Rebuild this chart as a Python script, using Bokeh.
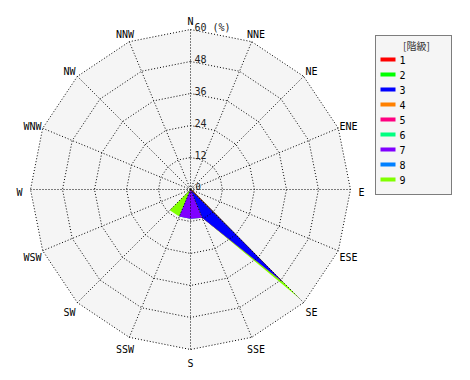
import numpy as np
from bokeh.plotting import figure
from bokeh.models import Range1d
from bokeh.core.properties import value
from bokeh.embed import file_html
from bokeh.resources import INLINE

# ---------------- data ----------------
directions = ["N", "NNE", "NE", "ENE", "E", "ESE", "SE", "SSE",
              "S", "SSW", "SW", "WSW", "W", "WNW", "NW", "NNW"]
classes = ["1", "2", "3", "4", "5", "6", "7", "8", "9"]
class_colors = ["#ff0000", "#00ff00", "#0000ff", "#ff8000", "#ff0080",
                "#00ff80", "#8000ff", "#0080ff", "#80ff00"]
# frequency (%) per class, per direction (N .. NNW)
c1 = [0, 0, 0, 0, 0, 0.7, 23, 0, 0, 0, 0, 0, 0, 0, 0, 0]
c2 = [0, 0, 0, 0, 0, 0, 1, 0, 0, 0, 0, 0, 0, 0, 0, 0]
c3 = [0, 0, 0, 0, 0, 0, 25, 11.5, 0, 0, 0, 0, 0, 0, 0, 0]
c4 = [0, 0, 0, 0, 0, 0, 0, 0, 0, 0, 0, 0, 0, 0, 0, 0]
c5 = [0, 0, 0, 0, 0, 0, 0, 0, 0, 0, 0, 0, 0, 0, 0, 0]
c6 = [0, 0, 0, 0, 0, 0, 0, 0, 0, 0, 0, 0, 0, 0, 0, 0]
c7 = [0, 0, 0, 0, 0, 0, 0, 0, 11, 11, 0, 0, 0, 0, 0, 0]
c8 = [0, 0, 0, 0, 0, 0, 0, 0, 0, 0, 0, 0, 0, 0, 0, 0]
c9 = [0, 0, 0, 0, 0, 0, 9, 0, 0, 0, 11, 0, 0, 0, 0, 0]
ring_values = [12, 24, 36, 48, 60]
ring_labels = ["12", "24", "36", "48", "60 (%)"]
legend_title = "[階級]"

# ---------------- layout ----------------
W, H = 470, 380
CX, CY = 190, 189          # pixel centre of the rose
SCALE = 160 / 60.0         # pixels per percent
FONT = value("DejaVu Sans Mono")


def dx(px):
    return (px - CX) / SCALE


def dy(py):
    return (CY - py) / SCALE


p = figure(width=W, height=H, output_backend="svg", toolbar_location=None,
           x_range=Range1d(dx(0), dx(W)), y_range=Range1d(dy(H), dy(0)),
           min_border=0)
p.axis.visible = False
p.grid.visible = False
p.outline_line_color = None
p.background_fill_color = "white"
p.border_fill_color = "white"

theta = np.deg2rad(np.arange(16) * 22.5)
sx, cy_ = np.sin(theta), np.cos(theta)
rmax = ring_values[-1]

# background of the rose
p.patch(list(rmax * sx), list(rmax * cy_), fill_color="#f5f5f5", line_color=None)

# stacked (cumulative) rose polygons, outermost first
data = np.array([c1, c2, c3, c4, c5, c6, c7, c8, c9], dtype=float)
cum = np.cumsum(data, axis=0)
for k in range(len(classes) - 1, -1, -1):
    r = cum[k]
    p.patch(list(r * sx), list(r * cy_), fill_color=class_colors[k],
            line_color=None)

# grid rings
xs = [list(np.append(rv * sx, rv * sx[0])) for rv in ring_values]
ys = [list(np.append(rv * cy_, rv * cy_[0])) for rv in ring_values]
p.multi_line(xs, ys, line_color="black", line_dash="1 2", line_width=1)
# spokes
p.multi_line([[0, rmax * s] for s in sx], [[0, rmax * c] for c in cy_],
             line_color="black", line_dash="1 2", line_width=1)

# direction labels
rl = 171 / SCALE
shift = 2.5 / SCALE
p.text(x=list(rl * sx), y=list(rl * cy_ - shift), text=directions,
       text_font=FONT, text_font_size="10px", text_align="center",
       text_baseline="middle", text_color="black")
# ring labels
p.text(x=[dx(CX + 4)] * len(ring_values),
       y=[rv + 0.8 for rv in ring_values], text=ring_labels,
       text_font=FONT, text_font_size="10px", text_align="left",
       text_baseline="middle", text_color="#222222")
p.text(x=[dx(CX + 5)], y=[dy(CY - 3)], text=["0"], text_font=FONT,
       text_font_size="9px", text_align="left", text_baseline="middle",
       text_color="#222222")

# ---------------- legend (drawn manually) ----------------
L, R, T, B = 375, 451, 35, 194
p.quad(left=[dx(L)], right=[dx(R)], top=[dy(T)], bottom=[dy(B)],
       fill_color="#f5f5f5", line_color="black", line_dash="1 1", line_width=1)
p.text(x=[dx((L + R) / 2 + 3)], y=[dy(45)], text=[legend_title],
       text_font=value("Noto Sans CJK JP"), text_font_size="10px",
       text_align="center", text_baseline="middle", text_color="#333333")
rows = [59 + 15 * i for i in range(len(classes))]
p.quad(left=[dx(380)] * len(classes), right=[dx(395)] * len(classes),
       top=[dy(y - 2) for y in rows], bottom=[dy(y + 2) for y in rows],
       fill_color=class_colors, line_color=None)
p.text(x=[dx(399)] * len(classes), y=[dy(y) for y in rows], text=classes,
       text_font=FONT, text_font_size="10px", text_align="left",
       text_baseline="middle", text_color="black")

open("out.html", "w").write(file_html(p, INLINE))
